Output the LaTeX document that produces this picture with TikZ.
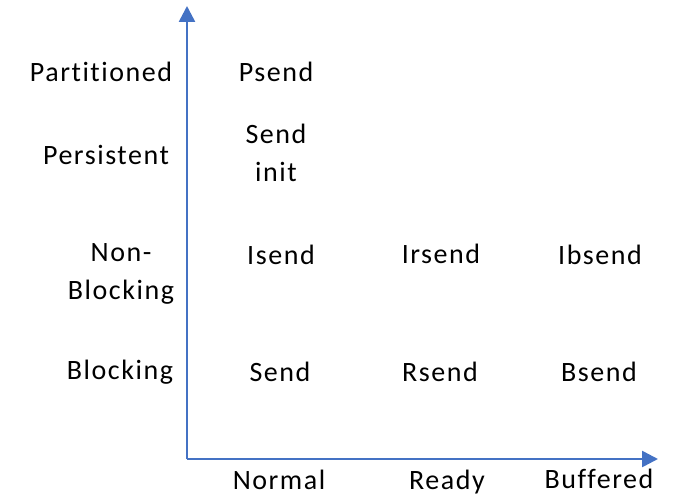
\documentclass[tikz,border=0pt]{standalone}
\usepackage{fontspec}
\setmainfont{Carlito}[LetterSpace=5.5, Ligatures=NoCommon]
\usetikzlibrary{arrows.meta}
\definecolor{axisblue}{HTML}{4472C4}
\begin{document}
\begin{tikzpicture}[x=1pt,y=-1pt,
  lbl/.style={font=\fontsize{28}{38}\selectfont, inner sep=0pt, align=center},
  axis/.style={draw=axisblue, line width=2.6pt, -{Triangle[length=16pt,width=16pt]}}]
  \useasboundingbox (0,0) rectangle (676,497);
  % axes
  \coordinate (origin) at (187,459);
  \coordinate (ytop) at (187,6);
  \coordinate (xend) at (658,459);
  \draw[axis] (origin) -- (ytop);
  \draw[axis] (origin) -- (xend);
  % row labels
  \node[lbl] (partitioned) at (101,72) {Partitioned};
  \node[lbl] (persistent) at (106,155) {Persistent};
  \node[lbl] (nonblocking) at (121,274) {Non-\\Blocking};
  \node[lbl] (blocking) at (120,372) {Blocking};
  % column labels
  \node[lbl] (normal) at (279,480) {Normal};
  \node[lbl] (ready) at (447,482) {Ready};
  \node[lbl] (buffered) at (599,479) {Buffered};
  % calls
  \node[lbl] (psend) at (276,72) {Psend};
  \node[lbl] (sendinit) at (276,153) {Send\\init};
  \node[lbl] (isend) at (281,255) {Isend};
  \node[lbl] (irsend) at (441,254) {Irsend};
  \node[lbl] (ibsend) at (600,255) {Ibsend};
  \node[lbl] (send) at (280,372) {Send};
  \node[lbl] (rsend) at (440,372) {Rsend};
  \node[lbl] (bsend) at (599,372) {Bsend};
\end{tikzpicture}
\end{document}
